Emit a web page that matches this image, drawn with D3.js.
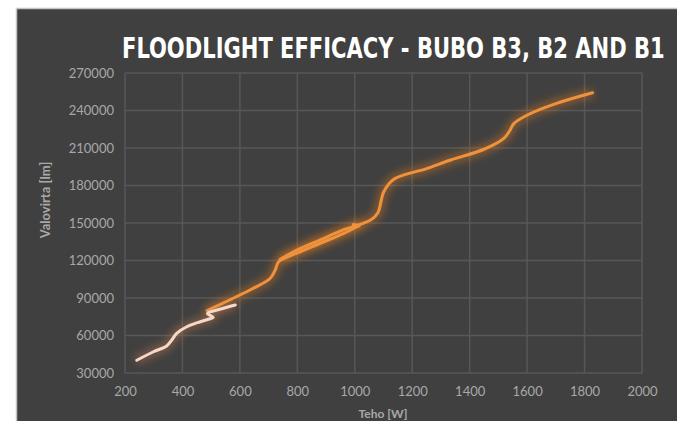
<!DOCTYPE html>
<html><head><meta charset="utf-8">
<script src="https://cdn.jsdelivr.net/npm/d3@7"></script>
<style>
html,body{margin:0;padding:0;background:#fff;}
svg{display:block;}
</style></head>
<body>
<svg id="chart" width="677" height="421"></svg>
<script>
// ---- data ----
const title = "FLOODLIGHT EFFICACY - BUBO B3, B2 AND B1";
const xTicks = [200,400,600,800,1000,1200,1400,1600,1800,2000];
const yTicks = [30000,60000,90000,120000,150000,180000,210000,240000,270000];
// B1 (light)
const b1Watts = [241,299,345,363,380,415,462,500,507,487,530,584];
const b1Lumen = [40200,47000,51600,56400,61700,67000,71000,73700,74500,77700,81000,84400];
// B2 (orange)
const b2Watts = [486,560,640,706,723,735,800,880,960,1008,1016,995];
const b2Lumen = [80000,88000,97000,105800,112400,119000,126000,133800,141500,147000,147800,148800];
// B3 (orange)
const b3Watts = [740,800,880,960,1055,1080,1101,1136,1250,1334,1450,1519,1540,1554,1601,1700,1828];
const b3Lumen = [121000,128500,136500,144500,152400,158000,175000,185000,193500,200400,209000,217700,224000,229500,236400,245500,254200];

const svg = d3.select("#chart");
const W = 677, H = 421;

// frame
svg.append("rect").attr("x",0).attr("y",0).attr("width",W).attr("height",H).attr("fill","#fff");
svg.append("rect").attr("x",17).attr("y",9).attr("width",W-17).attr("height",H-9).attr("fill","#404040");
svg.append("line").attr("x1",16.5).attr("x2",16.5).attr("y1",8.5).attr("y2",H).attr("stroke","#c4c4c4").attr("stroke-width",1.5);
svg.append("line").attr("x1",16.5).attr("x2",W).attr("y1",8.5).attr("y2",8.5).attr("stroke","#c4c4c4").attr("stroke-width",1.5);

const x = d3.scaleLinear().domain([200,2000]).range([125,642]);
const y = d3.scaleLinear().domain([30000,270000]).range([373,73]);

// grid
const g = svg.append("g");
g.selectAll("line.v").data(xTicks).join("line")
  .attr("x1",d=>x(d)).attr("x2",d=>x(d)).attr("y1",y(270000)).attr("y2",y(30000))
  .attr("stroke","#575757").attr("stroke-width",1.5);
g.selectAll("line.h").data(yTicks).join("line")
  .attr("x1",x(200)).attr("x2",x(2000)).attr("y1",d=>y(d)).attr("y2",d=>y(d))
  .attr("stroke","#575757").attr("stroke-width",1.5);

// axes (labels only)
const xAxis = d3.axisBottom(x).tickValues(xTicks).tickSize(0).tickPadding(14).tickFormat(d3.format("d"));
const yAxis = d3.axisLeft(y).tickValues(yTicks).tickSize(0).tickPadding(11).tickFormat(d3.format("d"));
const gx = svg.append("g").attr("transform",`translate(0,${y(30000)})`).call(xAxis);
const gy = svg.append("g").attr("transform",`translate(${x(200)},0)`).call(yAxis);
[gx,gy].forEach(a=>{
  a.select(".domain").remove();
  a.selectAll("text").attr("fill","#a8a8a8").style("font-family","Lato, 'Open Sans', sans-serif").style("font-size","13px");
});

// titles
const t = svg.append("text").attr("x",0).attr("y",0).text(title)
  .attr("fill","#ffffff").style("font-family","'DejaVu Sans Condensed','DejaVu Sans',sans-serif")
  .style("font-weight","bold").style("font-stretch","condensed").style("font-size","28px");
const natural = t.node().getComputedTextLength();
const sx = 543 / natural;
t.attr("transform",`translate(122,58) scale(${sx},1)`);

svg.append("text").attr("transform","translate(50,200) rotate(-90)").attr("text-anchor","middle")
  .text("Valovirta [lm]").attr("fill","#a8a8a8").style("font-family","Lato, sans-serif").style("font-size","13px").style("font-weight","bold");
svg.append("text").attr("x",383).attr("y",418).attr("text-anchor","middle")
  .text("Teho [W]").attr("fill","#a8a8a8").style("font-family","Lato, sans-serif").style("font-size","12px").style("font-weight","bold");

// glow filter
const defs = svg.append("defs");
const f = defs.append("filter").attr("id","glow").attr("x","-20%").attr("y","-20%").attr("width","140%").attr("height","140%");
f.append("feGaussianBlur").attr("stdDeviation",4);

const line = d3.line().x(d=>x(d[0])).y(d=>y(d[1])).curve(d3.curveCatmullRom.alpha(0.5));
const series = [
  {w:b3Watts,l:b3Lumen,color:"#f0923c",glow:"#e07a20"},
  {w:b2Watts,l:b2Lumen,color:"#f0923c",glow:"#e07a20"},
  {w:b1Watts,l:b1Lumen,color:"#f6d8c8",glow:"#c87a50"}
];
series.forEach(s=>{
  const pts = s.w.map((v,i)=>[v,s.l[i]]);
  svg.append("path").attr("d",line(pts)).attr("fill","none").attr("stroke",s.glow)
    .attr("stroke-width",8).attr("stroke-opacity",0.5).attr("filter","url(#glow)");
});
series.forEach(s=>{
  const pts = s.w.map((v,i)=>[v,s.l[i]]);
  svg.append("path").attr("d",line(pts)).attr("fill","none").attr("stroke",s.color)
    .attr("stroke-width",3).attr("stroke-linecap","round").attr("stroke-linejoin","round");
});
</script>
</body></html>
